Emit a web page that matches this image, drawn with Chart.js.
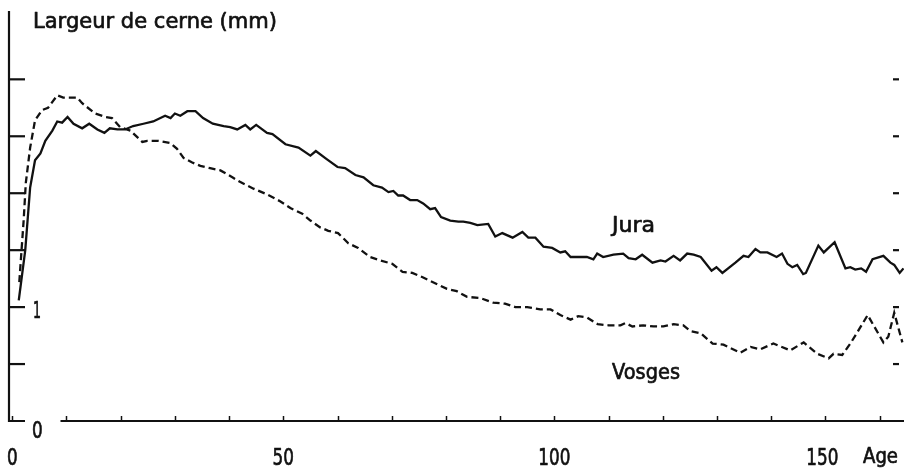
<!DOCTYPE html>
<html>
<head>
<meta charset="utf-8">
<script src="https://cdn.jsdelivr.net/npm/chart.js@4"></script>
<style>
  html, body { margin: 0; padding: 0; background: #ffffff; }
  #wrap { width: 904px; height: 474px; }
</style>
</head>
<body>
<div id="wrap"><canvas id="chart" width="904" height="474"></canvas></div>
<script>
// Ring width (mm) by cambial age
const juraAge = [1.2, 2.4, 3.3, 4.2, 5.2, 6.1, 7.4, 8.3, 9.2, 10.2, 11.3, 12.9, 14.2, 15.7, 17.0, 18.0, 19.4, 20.8, 22.3, 24.2,
    26.0, 28.2, 29.2, 30.0, 31.0, 32.3, 33.8, 35.2, 37.0, 39.0, 40.2, 41.5, 43.0, 43.9, 45.0, 47.0, 48.0, 50.4, 52.8, 55.0,
    56.0, 58.0, 60.0, 61.4, 63.3, 64.8, 66.6, 68.2, 69.4, 70.3, 71.2, 72.1, 73.4, 74.7, 75.8, 77.1, 78.0, 79.1, 80.8, 82.3,
    83.2, 84.5, 85.8, 87.8, 89.1, 90.4, 92.3, 94.1, 95.2, 96.5, 98.0, 99.6, 101.1, 102.0, 103.0, 106.0, 107.2, 107.9, 109.0, 110.9,
    112.7, 113.7, 115.0, 116.2, 118.1, 119.6, 120.5, 122.0, 123.2, 124.5, 125.7, 127.0, 129.0, 129.9, 131.0, 133.4, 134.9, 135.8, 137.1, 138.0,
    139.3, 141.0, 142.0, 143.0, 143.9, 144.8, 145.9, 146.4, 148.7, 149.7, 151.7, 153.7, 154.6, 155.5, 156.6, 157.5, 158.7, 160.7, 162.0, 162.7,
    163.7, 164.4];
const juraMm = [1.06, 1.50, 2.05, 2.29, 2.35, 2.46, 2.55, 2.63, 2.62, 2.67, 2.61, 2.57, 2.61, 2.56, 2.53, 2.57, 2.56, 2.56, 2.59, 2.61,
    2.63, 2.68, 2.66, 2.70, 2.68, 2.72, 2.72, 2.66, 2.61, 2.59, 2.58, 2.56, 2.60, 2.56, 2.60, 2.53, 2.52, 2.43, 2.40, 2.33,
    2.37, 2.30, 2.23, 2.22, 2.16, 2.14, 2.07, 2.05, 2.01, 2.02, 1.98, 1.98, 1.94, 1.94, 1.91, 1.86, 1.87, 1.79, 1.76, 1.75,
    1.75, 1.74, 1.72, 1.73, 1.62, 1.65, 1.61, 1.66, 1.61, 1.61, 1.53, 1.52, 1.48, 1.49, 1.44, 1.44, 1.42, 1.47, 1.44, 1.46,
    1.47, 1.43, 1.42, 1.46, 1.39, 1.41, 1.40, 1.45, 1.41, 1.47, 1.46, 1.44, 1.32, 1.35, 1.30, 1.39, 1.45, 1.44, 1.51, 1.48,
    1.48, 1.44, 1.47, 1.38, 1.35, 1.37, 1.29, 1.30, 1.54, 1.48, 1.57, 1.34, 1.35, 1.33, 1.34, 1.31, 1.42, 1.45, 1.39, 1.37,
    1.30, 1.34];

const vosgesAge = [1.3, 2.1, 2.5, 3.3, 4.2, 5.5, 6.6, 8.3, 9.4, 12.0, 12.9, 15.3, 17.2, 18.4, 19.9, 21.8, 24.0, 24.9, 27.0, 29.2,
    30.4, 31.6, 33.2, 34.7, 36.5, 38.4, 40.6, 42.0, 44.5, 47.0, 49.4, 51.3, 53.5, 55.0, 56.8, 58.3, 60.1, 62.0, 63.8, 66.0,
    67.9, 70.1, 72.0, 73.8, 75.8, 78.0, 80.2, 82.0, 83.9, 86.3, 88.7, 90.9, 92.8, 95.0, 97.4, 99.3, 101.1, 103.0, 104.4, 106.0,
    108.0, 110.0, 112.2, 113.1, 114.4, 116.4, 118.3, 120.1, 122.0, 123.8, 125.1, 127.0, 129.2, 131.2, 134.3, 136.2, 138.0, 140.4, 143.5, 146.0,
    148.5, 150.6, 151.5, 153.1, 154.6, 155.9, 157.8, 160.7, 161.6, 162.7, 164.2];
const vosgesMm = [1.22, 1.76, 2.09, 2.40, 2.64, 2.73, 2.75, 2.86, 2.84, 2.84, 2.79, 2.70, 2.67, 2.66, 2.58, 2.55, 2.45, 2.46, 2.46, 2.44,
    2.39, 2.31, 2.27, 2.24, 2.22, 2.20, 2.14, 2.10, 2.04, 1.99, 1.93, 1.87, 1.82, 1.76, 1.70, 1.67, 1.65, 1.56, 1.52, 1.44,
    1.41, 1.38, 1.31, 1.30, 1.26, 1.21, 1.16, 1.14, 1.09, 1.08, 1.04, 1.03, 1.00, 1.00, 0.98, 0.98, 0.93, 0.89, 0.92, 0.91,
    0.85, 0.84, 0.84, 0.86, 0.83, 0.84, 0.83, 0.83, 0.85, 0.84, 0.79, 0.77, 0.68, 0.67, 0.60, 0.65, 0.63, 0.68, 0.62, 0.69,
    0.59, 0.55, 0.59, 0.58, 0.68, 0.78, 0.93, 0.69, 0.74, 0.95, 0.69];

// Axis ticks and labels
const xTicks = [0, 10, 20, 30, 40, 50, 60, 70, 80, 90, 100, 110, 120, 130, 140, 150, 160];
const xLabels = [0, 50, 100, 150];
const yTicks = [0.5, 1, 1.5, 2, 2.5, 3];
const yLabels = [0, 1];

const INK = '#111111';
const FONT = '"DejaVu Sans", sans-serif';

function toPoints(ages, values) {
    return ages.map((a, i) => ({ x: a, y: values[i] }));
}

// Plotter-style text, squeezed to the narrow width of the original lettering
// and given a thin outline so the strokes look as heavy as the pen lines
function drawText(ctx, text, x, y, size, maxWidth, align) {
    ctx.font = `${size}px ${FONT}`;
    ctx.textAlign = align || 'left';
    ctx.textBaseline = 'alphabetic';
    ctx.fillStyle = INK;
    ctx.strokeStyle = INK;
    ctx.lineWidth = 0.7;
    ctx.lineJoin = 'round';
    ctx.fillText(text, x, y, maxWidth);
    ctx.strokeText(text, x, y, maxWidth);
}

// Draws the hand-made axes, ticks and labels using the chart scales
const plotterAxes = {
    id: 'plotterAxes',
    afterDraw(chart) {
        const ctx = chart.ctx;
        const xs = chart.scales.x;
        const ys = chart.scales.y;
        const area = chart.chartArea;
        const y0 = ys.getPixelForValue(0);

        ctx.save();
        ctx.strokeStyle = INK;
        ctx.lineWidth = 2.2;
        ctx.lineCap = 'butt';

        // left axis
        ctx.beginPath();
        ctx.moveTo(area.left, area.top);
        ctx.lineTo(area.left, y0);
        ctx.lineTo(area.left + 16, y0);
        ctx.stroke();

        // left ticks
        yTicks.forEach(v => {
            const py = ys.getPixelForValue(v);
            ctx.beginPath();
            ctx.moveTo(area.left, py);
            ctx.lineTo(area.left + 16, py);
            ctx.stroke();
        });

        // right dashes
        yTicks.forEach(v => {
            const py = ys.getPixelForValue(v);
            ctx.beginPath();
            ctx.moveTo(area.right - 11, py);
            ctx.lineTo(area.right - 5, py);
            ctx.stroke();
        });

        // bottom axis (interrupted near the origin by the "0" label)
        ctx.beginPath();
        ctx.moveTo(xs.getPixelForValue(8.9), y0);
        ctx.lineTo(area.right, y0);
        ctx.stroke();

        ctx.lineWidth = 1.5;
        xTicks.forEach(v => {
            const px = Math.round(xs.getPixelForValue(v)) + 0.5;
            ctx.beginPath();
            ctx.moveTo(px, y0);
            ctx.lineTo(px, y0 - 5);
            ctx.stroke();
        });

        // labels
        xLabels.forEach(v => {
            const w = String(v).length * 10.7;
            drawText(ctx, String(v), xs.getPixelForValue(v) - (v === 150 ? 3 : 0), y0 + 44, 23, w, 'center');
        });
        drawText(ctx, 'Age', 863, y0 + 42, 22, 35);

        drawText(ctx, '1', area.left + 24, ys.getPixelForValue(1) + 11, 23, 8);
        drawText(ctx, '0', area.left + 23, y0 + 17, 23, 10.7);

        drawText(ctx, 'Largeur de cerne (mm)', 33, 28, 22, 244);
        drawText(ctx, 'Jura', 612, 232, 22, 45);
        drawText(ctx, 'Vosges', 612, 379, 22, 68);

        ctx.restore();
    }
};

const ctx = document.getElementById('chart').getContext('2d');
const chart = new Chart(ctx, {
    type: 'line',
    data: {
        datasets: [
            {
                label: 'Jura',
                data: toPoints(juraAge, juraMm),
                borderColor: INK,
                borderWidth: 2.3,
                pointRadius: 0,
                tension: 0
            },
            {
                label: 'Vosges',
                data: toPoints(vosgesAge, vosgesMm),
                borderColor: INK,
                borderWidth: 2.3,
                borderDash: [7, 4],
                pointRadius: 0,
                tension: 0
            }
        ]
    },
    options: {
        responsive: false,
        animation: false,
        events: [],
        layout: {
            padding: { left: 9, top: 11, right: 0, bottom: 53 }
        },
        plugins: {
            legend: { display: false },
            tooltip: { enabled: false },
            title: { display: false }
        },
        scales: {
            x: {
                type: 'linear',
                min: -0.6,
                max: 164.5,
                display: false
            },
            y: {
                type: 'linear',
                min: 0,
                max: 3.6,
                display: false
            }
        }
    },
    plugins: [plotterAxes]
});
</script>
</body>
</html>
